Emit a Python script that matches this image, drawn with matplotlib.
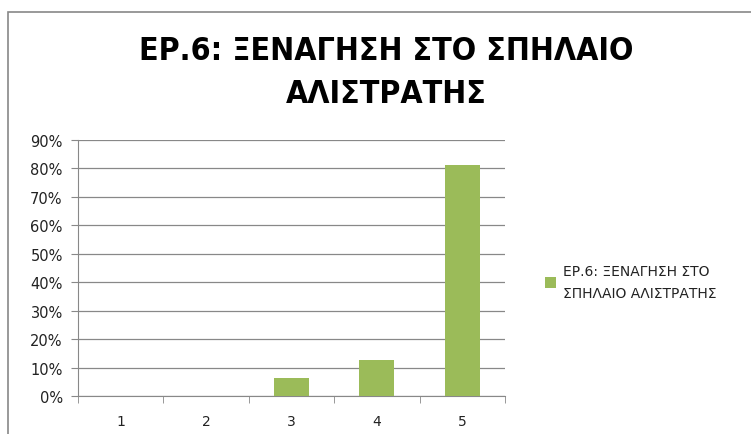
import matplotlib.pyplot as plt
import numpy as np
from matplotlib import ticker
from matplotlib.patches import Rectangle

TITLE = "ΕΡ.6: ΞΕΝΑΓΗΣΗ ΣΤΟ ΣΠΗΛΑΙΟ\nΑΛΙΣΤΡΑΤΗΣ"
SERIES_LABEL = "ΕΡ.6: ΞΕΝΑΓΗΣΗ ΣΤΟ\nΣΠΗΛΑΙΟ ΑΛΙΣΤΡΑΤΗΣ"
categories = ["1", "2", "3", "4", "5"]
values = [0.0, 0.0, 0.0625, 0.125, 0.8125]

BAR_COLOR = "#9BBB59"
GRID_COLOR = "#888888"


def main():
    fig = plt.figure(figsize=(7.51, 4.35), dpi=100)
    W, H = 751, 435

    # chart frame (cut off on right and bottom like the original)
    fig.patches.append(Rectangle((8 / W, -0.05), 1.2, 1 - 13 / H + 0.05,
                                 transform=fig.transFigure, fill=False,
                                 edgecolor="#888888", linewidth=1.2))

    ax = fig.add_axes([78 / W, 1 - 397 / H, (505 - 78) / W, (397 - 141) / H])
    x = np.arange(len(categories))
    ax.bar(x, values, width=0.41, color=BAR_COLOR, label=SERIES_LABEL, zorder=3)

    ax.set_xlim(-0.5, len(categories) - 0.5)
    ax.set_ylim(0, 0.9)
    ax.yaxis.set_major_locator(ticker.MultipleLocator(0.1))
    ax.yaxis.set_major_formatter(ticker.PercentFormatter(1.0, decimals=0))
    ax.set_xticks(x)
    ax.set_xticklabels(categories)
    ax.set_xticks(np.arange(len(categories) + 1) - 0.5, minor=True)
    ax.tick_params(axis="x", which="major", length=0, pad=13, labelsize=10, colors="#222222")
    ax.tick_params(axis="x", which="minor", length=5, color=GRID_COLOR)
    ax.tick_params(axis="y", length=5, color=GRID_COLOR, labelsize=10.5, labelcolor="#222222", pad=6)

    ax.grid(True, axis="y", color=GRID_COLOR, linewidth=0.9, zorder=0)
    for side in ["top", "right"]:
        ax.spines[side].set_visible(False)
    ax.spines["left"].set_color(GRID_COLOR)
    ax.spines["bottom"].set_color(GRID_COLOR)

    fig.text(386 / W, 1 - 73 / H, TITLE, ha="center", va="center",
             fontsize=23, fontweight="bold", family="DejaVu Sans",
             fontstretch="condensed", linespacing=1.5)

    leg = ax.legend(loc="center left", bbox_to_anchor=(532 / W, 1 - 283 / H),
                    bbox_transform=fig.transFigure, frameon=False, fontsize=10,
                    handlelength=0.8, handleheight=0.8, handletextpad=0.5)
    for t in leg.get_texts():
        t.set_linespacing(1.75)
        t.set_color("#222222")

    fig.savefig("out.png", dpi=100)


if __name__ == '__main__':
    main()
